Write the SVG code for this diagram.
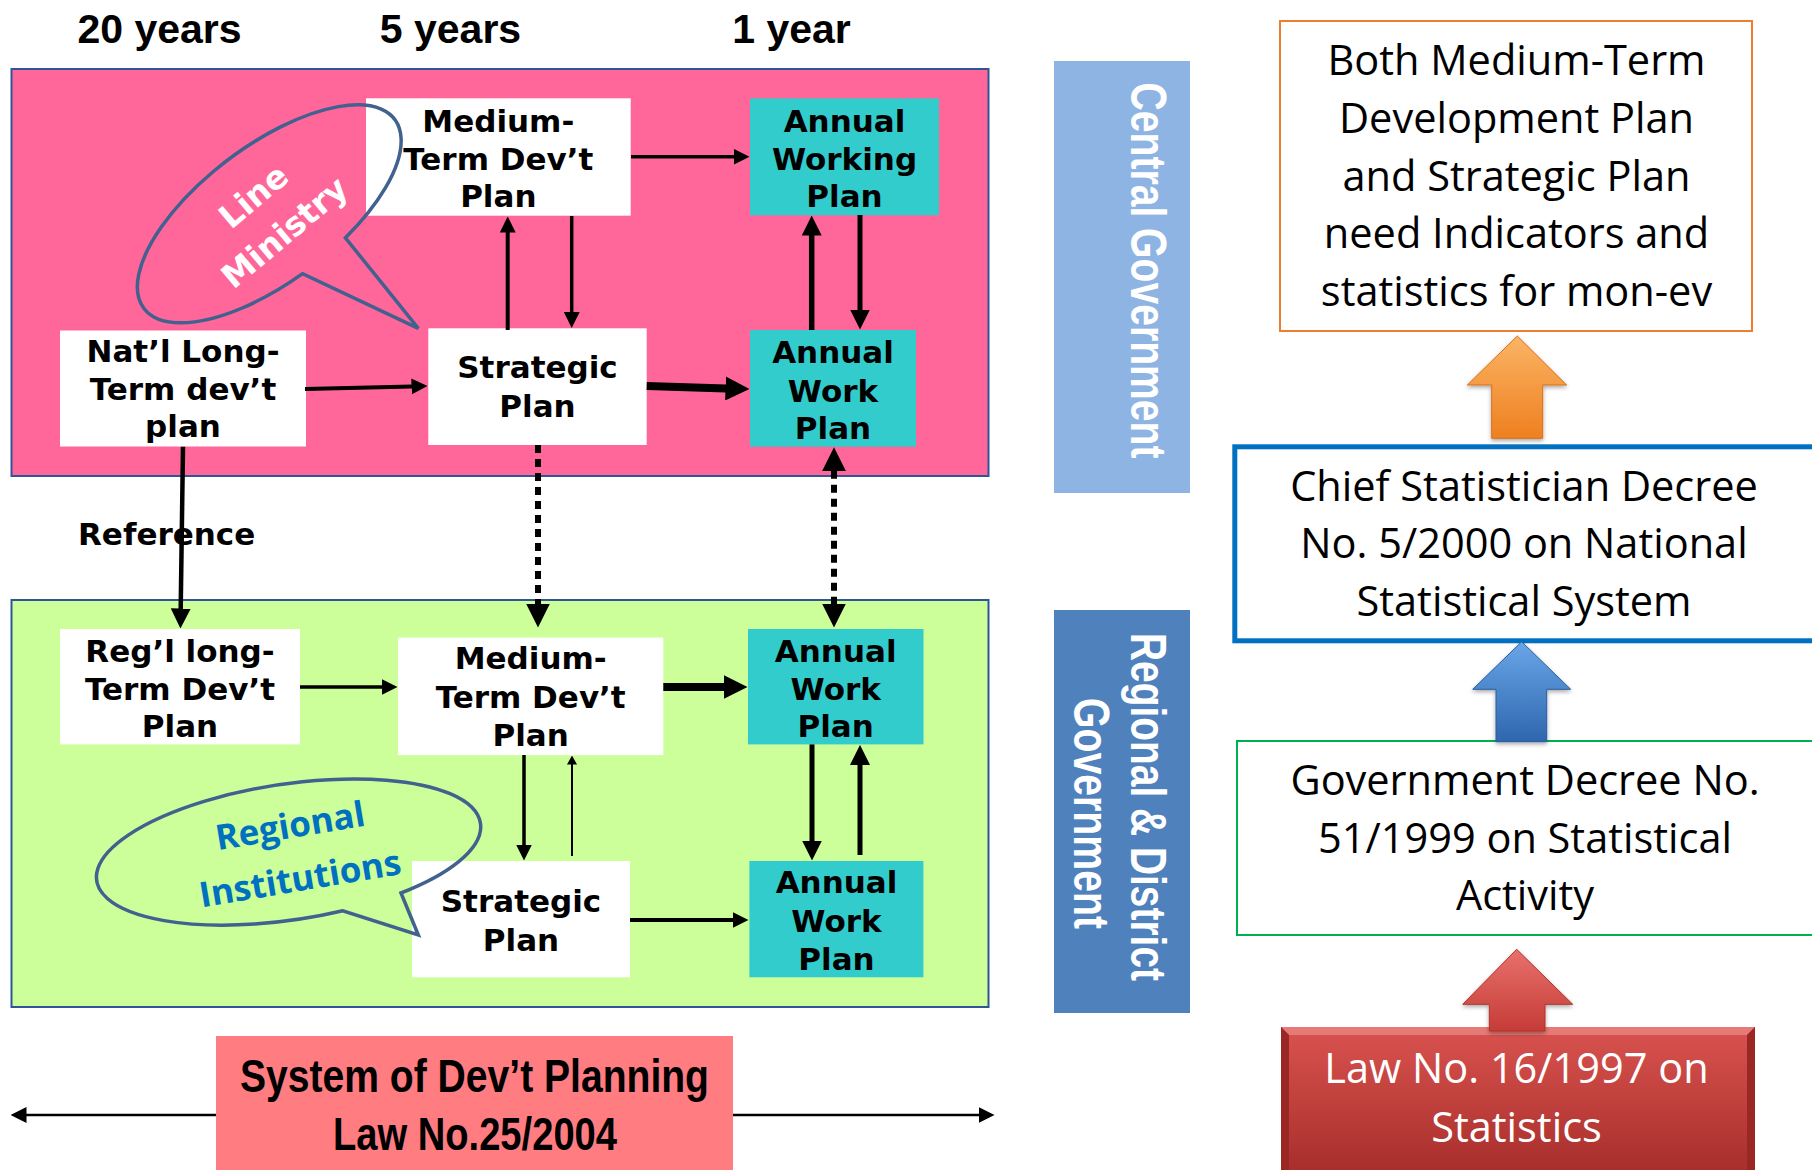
<svg xmlns="http://www.w3.org/2000/svg" width="1812" height="1170" viewBox="0 0 1812 1170">
<defs>
<style>
.nt{font-family:"DejaVu Sans",Verdana,sans-serif;font-weight:bold;font-size:31px;text-anchor:middle;fill:#000}
.yr{font-family:"Liberation Sans",Arial,sans-serif;font-weight:bold;font-size:41px;text-anchor:middle;fill:#000}
.rt{font-family:"Open Sans","Liberation Sans",sans-serif;font-size:41.5px;text-anchor:middle;fill:#000}
.vt{font-family:"Liberation Sans",Arial,sans-serif;font-weight:bold;font-size:50px;text-anchor:middle;fill:#fff}
.sy{font-family:"Liberation Sans",Arial,sans-serif;font-weight:bold;font-size:46px;text-anchor:middle;fill:#000}
.wb{fill:#fff}
.tl{fill:#33CCCC}
.cn{stroke:#000;fill:none}
.co{fill:none;stroke:#41618F;stroke-width:3.5;stroke-linejoin:miter}
</style>
<marker id="ah" viewBox="0 0 16 16" markerWidth="16" markerHeight="16" refX="0.5" refY="8" orient="auto-start-reverse" markerUnits="userSpaceOnUse"><path d="M0,0 L16,8 L0,16 z" fill="#000"/></marker>
<marker id="ahM" viewBox="0 0 20 20" markerWidth="20" markerHeight="20" refX="0.5" refY="10" orient="auto-start-reverse" markerUnits="userSpaceOnUse"><path d="M0,0 L20,10 L0,20 z" fill="#000"/></marker>
<marker id="ahL" viewBox="0 0 24 24" markerWidth="24" markerHeight="24" refX="0.5" refY="12" orient="auto-start-reverse" markerUnits="userSpaceOnUse"><path d="M0,0 L24,12 L0,24 z" fill="#000"/></marker>
<marker id="ahS" viewBox="0 0 9 10" markerWidth="9" markerHeight="10" refX="0.5" refY="5" orient="auto-start-reverse" markerUnits="userSpaceOnUse"><path d="M0,0 L9,5 L0,10 z" fill="#000"/></marker>
<linearGradient id="gOr" x1="0" y1="0" x2="0" y2="1"><stop offset="0" stop-color="#FBB465"/><stop offset="1" stop-color="#EE8020"/></linearGradient>
<linearGradient id="gBl" x1="0" y1="0" x2="0" y2="1"><stop offset="0" stop-color="#6AA6E8"/><stop offset="1" stop-color="#2E66AE"/></linearGradient>
<linearGradient id="gRd" x1="0" y1="0" x2="0" y2="1"><stop offset="0" stop-color="#E8716C"/><stop offset="1" stop-color="#C63C37"/></linearGradient>
<linearGradient id="gRb" x1="0" y1="0" x2="0" y2="1"><stop offset="0" stop-color="#D9534F"/><stop offset="1" stop-color="#A62D2A"/></linearGradient>
<filter id="sh" x="-20%" y="-20%" width="140%" height="140%"><feDropShadow dx="0" dy="2" stdDeviation="2" flood-opacity="0.35"/></filter>
</defs>

<rect width="1812" height="1170" fill="#fff"/>

<g id="year-labels">
<text class="yr" x="159.5" y="43">20 years</text>
<text class="yr" x="450.5" y="43">5 years</text>
<text class="yr" x="791.5" y="43">1 year</text>
</g>

<g id="central-panel"><rect x="11.5" y="69" width="977" height="407" fill="#FF6699" stroke="#2F5597" stroke-width="2"/></g>
<g id="regional-panel"><rect x="11.5" y="600" width="977" height="407" fill="#CCFF99" stroke="#2F5597" stroke-width="2"/></g>

<g id="label-reference"><text class="nt" x="78" y="545" style="text-anchor:start">Reference</text></g>

<g id="n-medium-top"><rect class="wb" x="366" y="98.3" width="264.7" height="117.4"/>
<text class="nt" x="498.3" y="131.7">Medium-</text><text class="nt" x="498.3" y="170">Term Dev’t</text><text class="nt" x="498.3" y="207.3">Plan</text></g>
<g id="n-awp-top"><rect class="tl" x="750" y="98.3" width="189" height="117"/>
<text class="nt" x="844.5" y="131.7">Annual</text><text class="nt" x="844.5" y="170">Working</text><text class="nt" x="844.5" y="207.3">Plan</text></g>
<g id="n-natl"><rect class="wb" x="60" y="330.5" width="246" height="116"/>
<text class="nt" x="183" y="362">Nat’l Long-</text><text class="nt" x="183" y="400">Term dev’t</text><text class="nt" x="183" y="437">plan</text></g>
<g id="n-strategic-top"><rect class="wb" x="428.3" y="328.3" width="218.4" height="116.7"/>
<text class="nt" x="537.5" y="378.3">Strategic</text><text class="nt" x="537.5" y="416.7">Plan</text></g>
<g id="n-aw-top"><rect class="tl" x="750" y="330" width="166" height="116.7"/>
<text class="nt" x="833" y="363.3">Annual</text><text class="nt" x="833" y="401.7">Work</text><text class="nt" x="833" y="439.3">Plan</text></g>

<g id="n-regl"><rect class="wb" x="60" y="629" width="240" height="115.4"/>
<text class="nt" x="180" y="662.4">Reg’l long-</text><text class="nt" x="180" y="700">Term Dev’t</text><text class="nt" x="180" y="737.2">Plan</text></g>
<g id="n-medium-bot"><rect class="wb" x="398" y="637.6" width="265.3" height="117.5"/>
<text class="nt" x="530.7" y="669">Medium-</text><text class="nt" x="530.7" y="707.5">Term Dev’t</text><text class="nt" x="530.7" y="746">Plan</text></g>
<g id="n-aw1-bot"><rect class="tl" x="748" y="629" width="175.5" height="115.4"/>
<text class="nt" x="835.7" y="661.5">Annual</text><text class="nt" x="835.7" y="700">Work</text><text class="nt" x="835.7" y="737">Plan</text></g>
<g id="n-strategic-bot"><rect class="wb" x="412" y="861" width="218" height="116.3"/>
<text class="nt" x="521" y="912.3">Strategic</text><text class="nt" x="521" y="950.8">Plan</text></g>
<g id="n-aw2-bot"><rect class="tl" x="749.4" y="861" width="174" height="116.3"/>
<text class="nt" x="836.5" y="893">Annual</text><text class="nt" x="836.5" y="931.6">Work</text><text class="nt" x="836.5" y="970">Plan</text></g>

<g id="connectors">
<line class="cn" x1="631" y1="156.7" x2="734" y2="156.7" stroke-width="3.5" marker-end="url(#ah)"/>
<line class="cn" x1="507.7" y1="330" x2="507.7" y2="232" stroke-width="4" marker-end="url(#ah)"/>
<line class="cn" x1="571.7" y1="216" x2="571.7" y2="312.5" stroke-width="3.5" marker-end="url(#ah)"/>
<line class="cn" x1="811.7" y1="330" x2="811.7" y2="235" stroke-width="5.5" marker-end="url(#ahM)"/>
<line class="cn" x1="860" y1="215" x2="860" y2="310" stroke-width="5" marker-end="url(#ahM)"/>
<line class="cn" x1="305" y1="389" x2="412" y2="386.4" stroke-width="4" marker-end="url(#ah)"/>
<line class="cn" x1="646.7" y1="386" x2="726" y2="388.4" stroke-width="8" marker-end="url(#ahL)"/>
<line class="cn" x1="183" y1="446.7" x2="180.7" y2="609" stroke-width="4.5" marker-end="url(#ahM)"/>
<line class="cn" x1="538" y1="445" x2="538" y2="604" stroke-width="6" stroke-dasharray="8 6" marker-end="url(#ahL)"/>
<line class="cn" x1="834" y1="470.7" x2="834" y2="604" stroke-width="6" stroke-dasharray="8 6" marker-start="url(#ahL)" marker-end="url(#ahL)"/>
<line class="cn" x1="300" y1="687" x2="382" y2="687" stroke-width="3.5" marker-end="url(#ah)"/>
<line class="cn" x1="663.3" y1="687" x2="724" y2="687" stroke-width="8" marker-end="url(#ahL)"/>
<line class="cn" x1="524" y1="755" x2="524" y2="845" stroke-width="3.5" marker-end="url(#ah)"/>
<line class="cn" x1="572" y1="856" x2="572" y2="764" stroke-width="2" marker-end="url(#ahS)"/>
<line class="cn" x1="812" y1="744.4" x2="812" y2="841" stroke-width="5" marker-end="url(#ahM)"/>
<line class="cn" x1="860" y1="855" x2="860" y2="764.4" stroke-width="5" marker-end="url(#ahM)"/>
<line class="cn" x1="630" y1="920" x2="733" y2="920" stroke-width="4" marker-end="url(#ah)"/>
<line class="cn" x1="26" y1="1115" x2="979" y2="1115" stroke-width="2.5" marker-start="url(#ah)" marker-end="url(#ah)"/>
</g>

<g id="callout-line-ministry">
<path class="co" d="M302.6,273.7 A157,68 -37 1 1 345.4,237.8 L418.3,328.3 Z"/>
<g font-family="'DejaVu Sans',Verdana,sans-serif" font-weight="bold" font-size="33" fill="#fff" text-anchor="middle">
<text transform="translate(253.3,195.8) rotate(-40)" y="12">Line</text>
<text transform="translate(286.7,235) rotate(-40)" y="8">Ministry</text>
</g>
</g>

<g id="callout-regional">
<path class="co" d="M342.8,910.8 A194,68 -8.5 1 1 401,893 L418.3,935 Z"/>
<g font-family="'Open Sans','Liberation Sans',sans-serif" font-weight="bold" font-size="35" fill="#0070C0" text-anchor="middle">
<text transform="translate(290.8,830) rotate(-9.5)" y="8">Regional</text>
<text transform="translate(300,878.3) rotate(-9.5)" y="12.5">Institutions</text>
</g>
</g>

<g id="n-system">
<rect x="216" y="1036" width="517" height="140" fill="#FF7C80"/>
<text class="sy" x="474.5" y="1091.7" textLength="469" lengthAdjust="spacingAndGlyphs">System of Dev’t Planning</text>
<text class="sy" x="475" y="1150" textLength="284" lengthAdjust="spacingAndGlyphs">Law No.25/2004</text>
</g>

<g id="n-central-gov">
<rect x="1054" y="61" width="136" height="432" fill="#8EB4E3"/>
<text class="vt" transform="translate(1131,270.5) rotate(90)" textLength="376" lengthAdjust="spacingAndGlyphs">Central Government</text>
</g>
<g id="n-regional-gov">
<rect x="1054" y="610" width="136" height="403" fill="#4F81BD"/>
<text class="vt" transform="translate(1131,807) rotate(90)" textLength="348" lengthAdjust="spacingAndGlyphs">Regional &amp; District</text>
<text class="vt" transform="translate(1074,813.5) rotate(90)" textLength="231" lengthAdjust="spacingAndGlyphs">Government</text>
</g>

<g id="n-need">
<rect x="1280" y="21" width="472" height="310" fill="#fff" stroke="#ED7D31" stroke-width="2"/>
<text class="rt" x="1516.5" y="75">Both Medium-Term</text>
<text class="rt" x="1516.5" y="132.7">Development Plan</text>
<text class="rt" x="1516.5" y="190.5">and Strategic Plan</text>
<text class="rt" x="1516.5" y="248.3">need Indicators and</text>
<text class="rt" x="1516.5" y="306">statistics for mon-ev</text>
</g>
<g id="n-chief">
<rect x="1234.8" y="446.8" width="600" height="194" fill="#fff" stroke="#0070C0" stroke-width="5"/>
<text class="rt" x="1524" y="500.7">Chief Statistician Decree</text>
<text class="rt" x="1524" y="558.3">No. 5/2000 on National</text>
<text class="rt" x="1524" y="616">Statistical System</text>
</g>
<g id="n-govdecree">
<rect x="1237" y="741" width="600" height="194" fill="#fff" stroke="#00B050" stroke-width="2"/>
<text class="rt" x="1525" y="795">Government Decree No.</text>
<text class="rt" x="1525" y="852.7">51/1999 on Statistical</text>
<text class="rt" x="1525" y="910">Activity</text>
</g>
<g id="n-law">
<rect x="1281" y="1027" width="474" height="150" fill="url(#gRb)"/>
<polygon points="1281,1027 1755,1027 1747,1035 1289,1035" fill="#E57A76"/>
<polygon points="1281,1027 1289,1035 1289,1170 1281,1170" fill="#9A2724"/>
<polygon points="1755,1027 1747,1035 1747,1170 1755,1170" fill="#9A2724"/>
<text class="rt" x="1516.5" y="1083.3" style="fill:#fff">Law No. 16/1997 on</text>
<text class="rt" x="1516.5" y="1141.7" style="fill:#fff">Statistics</text>
</g>

<g id="up-arrows" filter="url(#sh)">
<polygon points="1517.3,336 1566.7,385 1542.7,385 1542.7,438.3 1491.7,438.3 1491.7,385 1467.3,385" fill="url(#gOr)" stroke="#D8701A" stroke-width="1"/>
<polygon points="1521.7,641.7 1570.7,689.3 1546.7,689.3 1546.7,741.7 1496,741.7 1496,689.3 1472.7,689.3" fill="url(#gBl)" stroke="#2A5D9F" stroke-width="1"/>
<polygon points="1516.7,949.3 1572.7,1004.3 1545,1004.3 1545,1031 1489.3,1031 1489.3,1004.3 1462.7,1004.3" fill="url(#gRd)" stroke="#B0332F" stroke-width="1"/>
</g>
</svg>
